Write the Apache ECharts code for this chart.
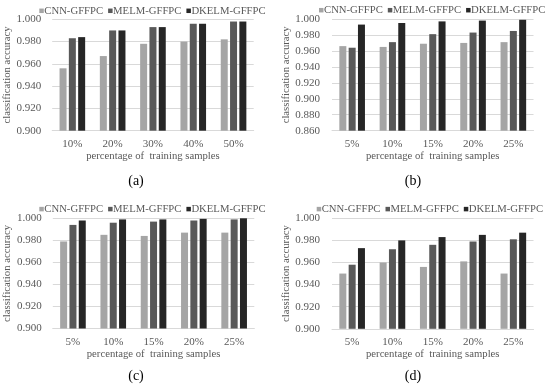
<!DOCTYPE html>
<html>
<head>
<meta charset="utf-8">
<script src="https://cdn.jsdelivr.net/npm/echarts@6/dist/echarts.min.js"></script>
<style>html,body{margin:0;padding:0;background:#fff}#c{width:550px;height:389px}</style>
</head>
<body>
<div id="c"></div>
<script>
const seriesNames = ['CNN-GFFPC', 'MELM-GFFPC', 'DKELM-GFFPC'];
const categoriesA = ['10%', '20%', '30%', '40%', '50%'];
const categoriesBCD = ['5%', '10%', '15%', '20%', '25%'];
const panelLabels = ['(a)', '(b)', '(c)', '(d)'];

const a_cnn = [0.956, 0.967, 0.978, 0.980, 0.982];
const a_melm = [0.983, 0.990, 0.993, 0.996, 0.998];
const a_dkelm = [0.984, 0.990, 0.993, 0.996, 0.998];

const b_cnn = [0.966, 0.965, 0.969, 0.970, 0.971];
const b_melm = [0.964, 0.971, 0.981, 0.983, 0.985];
const b_dkelm = [0.993, 0.995, 0.997, 0.998, 0.999];

const c_cnn = [0.979, 0.985, 0.984, 0.987, 0.987];
const c_melm = [0.994, 0.996, 0.997, 0.998, 0.999];
const c_dkelm = [0.998, 0.999, 0.999, 0.9995, 1.000];

const d_cnn = [0.950, 0.960, 0.956, 0.961, 0.950];
const d_melm = [0.958, 0.972, 0.976, 0.979, 0.981];
const d_dkelm = [0.973, 0.980, 0.983, 0.985, 0.987];

const yMinA = 0.9, yMinB = 0.86, yMinC = 0.9, yMinD = 0.9, yMax = 1.0, yStep = 0.02;

const FONT = '"Liberation Serif", "Times New Roman", serif';
const TXT = '#595959';
const GRIDC = '#d9d9d9';
const colors = ['#a5a5a5', '#595959', '#262626'];

const panels = [
  {cats: categoriesA, data: [a_cnn, a_melm, a_dkelm], min: yMinA,
   grid: {left: 52.2, top: 19.3, width: 201.5, height: 111.4}, legendLeft: 39.3, legendTop: 5.3, labelX: 136, labelY: 174.7, nameGap: 36.5, labelMargin: 11},
  {cats: categoriesBCD, data: [b_cnn, b_melm, b_dkelm], min: yMinB,
   grid: {left: 332, top: 19, width: 201.5, height: 111.7}, legendLeft: 319, legendTop: 4.7, labelX: 413, labelY: 174.7, nameGap: 38.3, labelMargin: 12},
  {cats: categoriesBCD, data: [c_cnn, c_melm, c_dkelm], min: yMinC,
   grid: {left: 52.8, top: 218.3, width: 201.5, height: 110.2}, legendLeft: 39.3, legendTop: 203.6, labelX: 136, labelY: 369.7, nameGap: 36.5, labelMargin: 11},
  {cats: categoriesBCD, data: [d_cnn, d_melm, d_dkelm], min: yMinD,
   grid: {left: 332, top: 218.3, width: 201.5, height: 110.5}, legendLeft: 316.7, legendTop: 203.6, labelX: 413, labelY: 369.7, nameGap: 38.3, labelMargin: 12}
];

const option = {
  animation: false,
  backgroundColor: '#fff',
  color: colors,
  title: panels.map((p, i) => ({
    text: panelLabels[i], left: p.labelX, top: p.labelY, textAlign: 'center', padding: 0,
    textStyle: {fontFamily: FONT, fontSize: 14, fontWeight: 'normal', color: '#000'}
  })),
  legend: panels.map(p => ({
    data: seriesNames, left: p.legendLeft, top: p.legendTop, width: 320, icon: 'rect',
    itemWidth: 4.5, itemHeight: 4.5, itemGap: 5, padding: 0, selectedMode: false,
    textStyle: {fontFamily: FONT, fontSize: 10.7, color: TXT, padding: [0, 0, 0, -4.5]}
  })),
  grid: panels.map(p => p.grid),
  xAxis: panels.map((p, i) => ({
    type: 'category', gridIndex: i, data: p.cats,
    axisTick: {show: false},
    axisLine: {lineStyle: {color: GRIDC}},
    axisLabel: {fontFamily: FONT, fontSize: 11, color: TXT, margin: 8},
    name: 'percentage of  training samples', nameLocation: 'middle', nameGap: 18,
    nameTextStyle: {fontFamily: FONT, fontSize: 10.7, color: TXT}
  })),
  yAxis: panels.map((p, i) => ({
    type: 'value', gridIndex: i, min: p.min, max: yMax, interval: yStep,
    axisLine: {show: false}, axisTick: {show: false},
    splitLine: {lineStyle: {color: GRIDC}},
    axisLabel: {fontFamily: FONT, fontSize: 11, color: TXT, margin: p.labelMargin,
      formatter: v => v.toFixed(3)},
    name: 'classification accuracy', nameLocation: 'middle', nameGap: p.nameGap,
    nameTextStyle: {fontFamily: FONT, fontSize: 10.7, color: TXT}
  })),
  series: []
};

panels.forEach((p, i) => {
  seriesNames.forEach((n, k) => {
    option.series.push({
      type: 'bar', name: n, xAxisIndex: i, yAxisIndex: i, data: p.data[k],
      barWidth: 7, barGap: '33%',
      itemStyle: {color: colors[k]}
    });
  });
});

const chart = echarts.init(document.getElementById('c'), null, {renderer: 'canvas'});
chart.setOption(option);
</script>
</body>
</html>
